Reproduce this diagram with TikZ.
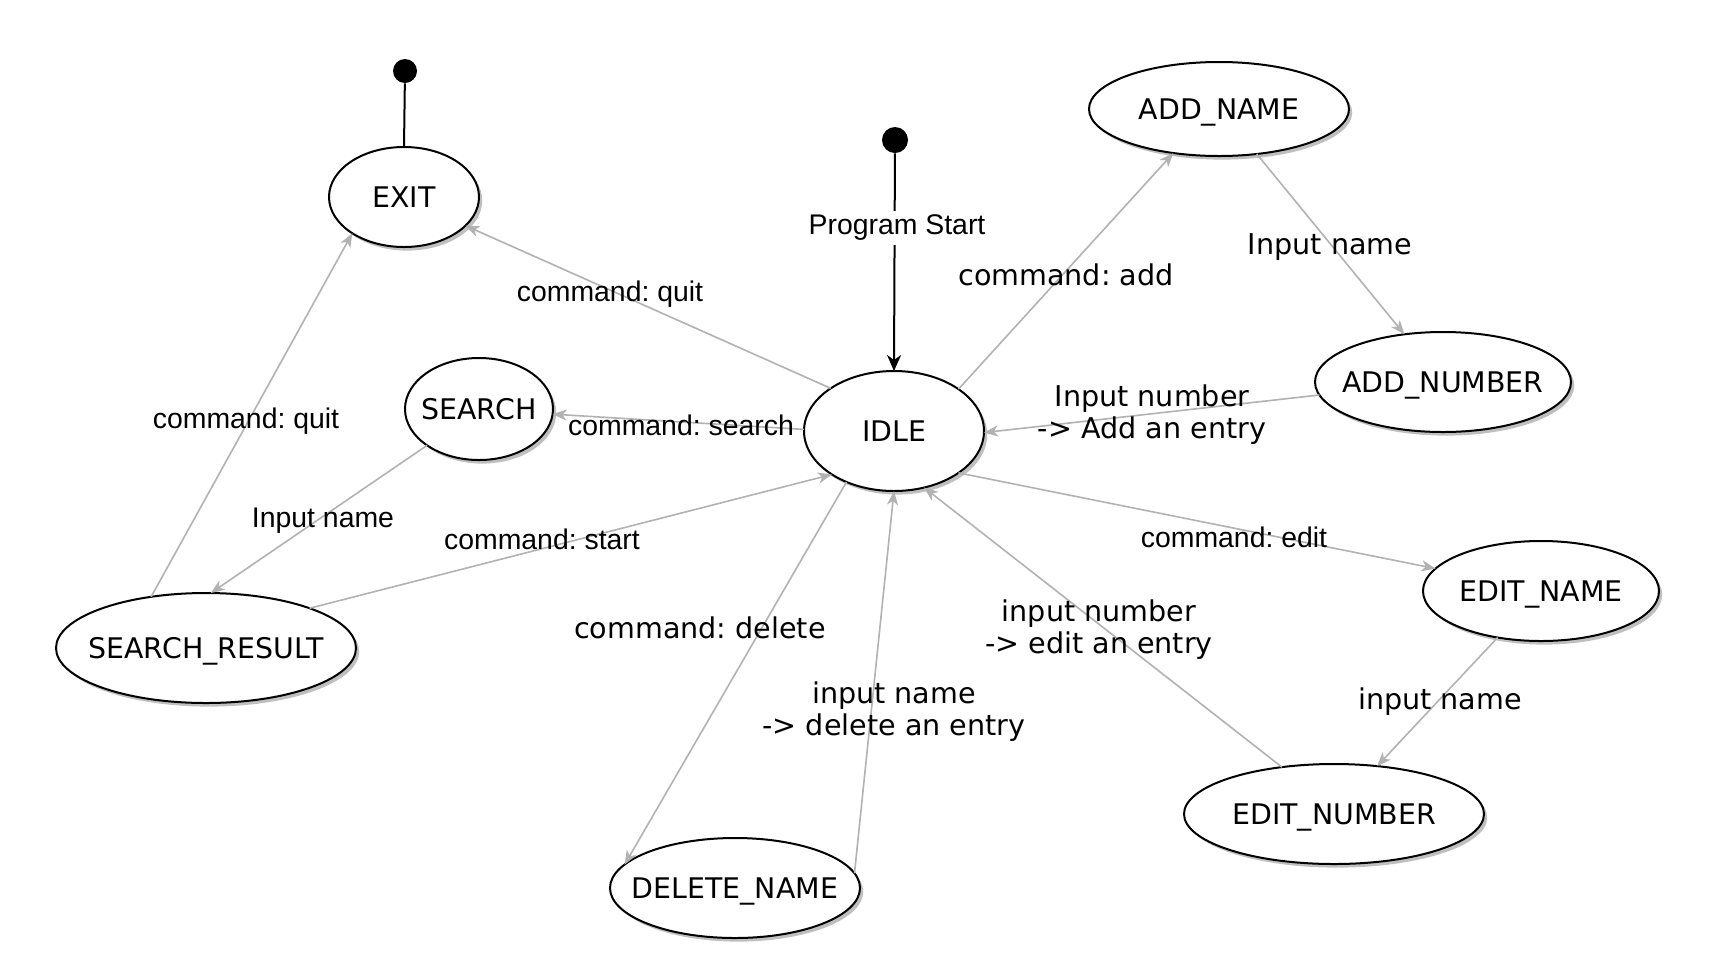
\documentclass[tikz,border=0pt]{standalone}
\usepackage{fontspec}
\newfontfamily\libfont{Liberation Sans}
\newfontfamily\dvfont{DejaVu Sans}
\usetikzlibrary{shapes.geometric,shadows,arrows.meta}
\frenchspacing
\newcommand{\ntext}[1]{\makebox[0pt][c]{\smash{#1}}\vphantom{A}}
\tikzset{
  st/.style={ellipse, draw=black, line width=1pt, fill=white, inner sep=0pt, outer sep=0pt,
    font=\dvfont\fontsize{14.2}{16}\selectfont,
    drop shadow={shadow xshift=1.6pt, shadow yshift=-1.8pt, fill=black!25, opacity=1}},
  tr/.style={draw=black!30, line width=0.8pt, -{Stealth[length=7pt,width=5.5pt,inset=2pt]}},
  startarrow/.style={draw=black, line width=1pt, -{Stealth[length=8pt,width=7pt,inset=2.5pt]}},
  la/.style={font=\libfont\fontsize{14.2}{16}\selectfont\frenchspacing, inner sep=1pt},
  ld/.style={font=\dvfont\fontsize{14.3}{16}\selectfont\frenchspacing, inner sep=1pt, align=center},
  dotnode/.style={circle, fill=black, inner sep=0pt},
}
\begin{document}
\begin{tikzpicture}[x=0.5pt,y=-0.5pt]
\fill[white] (0,0) rectangle (1730,976);
\useasboundingbox (0,0) rectangle (1730,976);

% states
\node[st, minimum width=75pt, minimum height=50pt] (exit) at (404,197) {\ntext{EXIT}};
\node[st, minimum width=90pt, minimum height=60pt] (idle) at (894,431) {\ntext{IDLE}};
\node[st, minimum width=130pt, minimum height=47pt] (addname) at (1219,109) {\ntext{ADD\_NAME}};
\node[st, minimum width=128pt, minimum height=50pt] (addnum) at (1443,382) {\ntext{ADD\_NUMBER}};
\node[st, minimum width=74pt, minimum height=51pt] (search) at (479,409) {\ntext{SEARCH}};
\node[st, minimum width=150pt, minimum height=55pt] (sres) at (206,648) {\ntext{SEARCH\_RESULT}};
\node[st, minimum width=125pt, minimum height=50pt] (delname) at (735,888) {\ntext{DELETE\_NAME}};
\node[st, minimum width=118pt, minimum height=50pt] (editname) at (1541,591) {\ntext{EDIT\_NAME}};
\node[st, minimum width=150pt, minimum height=50pt] (editnum) at (1334,814) {\ntext{EDIT\_NUMBER}};

% start / end dots
\node[dotnode, minimum size=12pt] (exitdot) at (405,71) {};
\node[dotnode, minimum size=13pt] (startdot) at (895,140) {};

% connectors
\draw[line width=1pt] (exit.90) -- (exitdot);
\draw[startarrow] (startdot) -- (idle.90);
\node[la, fill=white, inner sep=2pt] (lstart) at (897,228) {Program Start};

\draw[tr] (idle.146) -- (exit.-25);
\draw[tr] (sres.137) -- (exit.215);
\draw[tr] (idle.179) -- (search.-4);
\draw[tr] (search.215) -- (sres.85);
\draw[tr] (sres.21) -- (idle.215);
\draw[tr] (idle.227) -- (delname.168);
\draw[tr] (delname.7) -- (idle.270);
\draw[tr] (editnum.138) -- (idle.298);
\draw[tr] (idle.-33) -- (editname.168);
\draw[tr] (editname.227) -- (editnum.48);
\draw[tr] (idle.33) -- (addname.224);
\draw[tr] (addname.310) -- (addnum.129);
\draw[tr] (addnum.186) -- (idle.-1);

% labels
\node[la] (lq1) at (610,294) {command: quit};
\node[la] (lq2) at (246,421) {command: quit};
\node[la] (lsearch) at (681,425) {command: search};
\node[la] (lin1) at (323,521) {Input name};
\node[la] (lstartc) at (542,539) {command: start};
\node[la] (ledit) at (1234,537) {command: edit};
\node[ld] (ldel) at (700,628) {command: delete};
\node[ld] (ldelin) at (894,712) {input name\\-> delete an entry};
\node[ld] (leditin) at (1099,630) {input number\\-> edit an entry};
\node[ld] (lein) at (1440,702) {input name};
\node[ld] (laddin) at (1152,415) {Input number\\-> Add an entry};
\node[ld] (ladd) at (1066,275) {command: add};
\node[ld] (lan) at (1330,247) {Input name};
\end{tikzpicture}
\end{document}
